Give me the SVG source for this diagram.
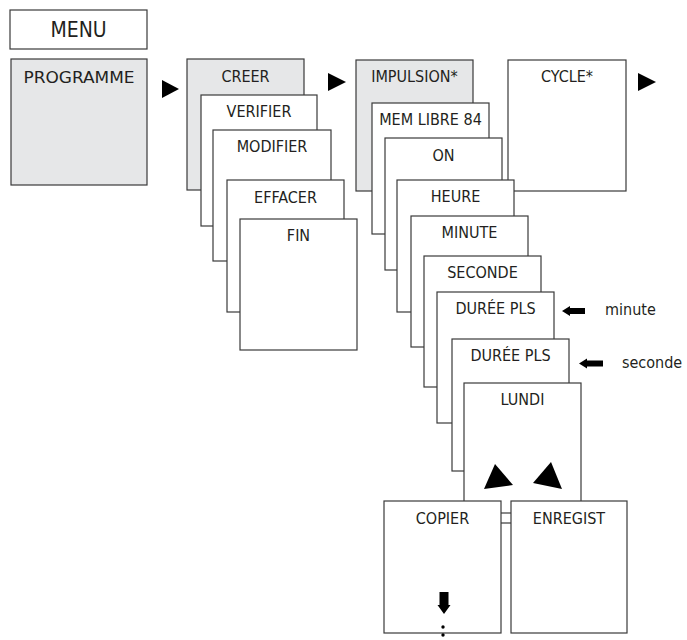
<svg xmlns="http://www.w3.org/2000/svg" width="687" height="640" viewBox="0 0 687 640">
<style>
rect{stroke:#3a3a3a;stroke-width:1.2;fill:#fff}
rect.g{fill:#e6e7e8}
rect.bg{stroke:none}
text{font-family:"DejaVu Sans Condensed","DejaVu Sans",sans-serif;font-size:16px;fill:#231f20;text-anchor:middle}
text.l{text-anchor:start}
.a{fill:#000;stroke:none}
</style>
<rect class="bg" width="687" height="640"/>
<g id="menu"><rect x="10" y="10" width="137" height="39"/><text x="78.5" y="37" style="font-size:21px">MENU</text></g>
<g id="programme"><rect class="g" x="11" y="59" width="136" height="126"/><text x="79" y="83" textLength="111" lengthAdjust="spacingAndGlyphs">PROGRAMME</text></g>
<g id="creer"><rect class="g" x="187" y="59" width="117" height="131"/><text x="245.5" y="82">CREER</text></g>
<g id="verifier"><rect x="201" y="95" width="116" height="131"/><text x="259" y="117">VERIFIER</text></g>
<g id="modifier"><rect x="213" y="130" width="118" height="131"/><text x="272" y="152">MODIFIER</text></g>
<g id="effacer"><rect x="227" y="180" width="117" height="132"/><text x="285.5" y="203">EFFACER</text></g>
<g id="fin"><rect x="240" y="219" width="117" height="131"/><text x="298.5" y="241">FIN</text></g>
<g id="impulsion"><rect class="g" x="356" y="60" width="117" height="131"/><text x="414.5" y="82">IMPULSION*</text></g>
<g id="cycle"><rect x="508" y="60" width="118" height="131"/><text x="567" y="82">CYCLE*</text></g>
<g id="memlibre"><rect x="372" y="103" width="117" height="131"/><text x="430.5" y="125">MEM LIBRE 84</text></g>
<g id="on"><rect x="385" y="138" width="117" height="132"/><text x="443.5" y="161">ON</text></g>
<g id="heure"><rect x="397" y="180" width="117" height="132"/><text x="455.5" y="202">HEURE</text></g>
<g id="minute-box"><rect x="411" y="216" width="117" height="131"/><text x="469.5" y="238">MINUTE</text></g>
<g id="seconde-box"><rect x="424" y="256" width="117" height="131"/><text x="482.5" y="278">SECONDE</text></g>
<g id="duree1"><rect x="437" y="292" width="117" height="131"/><text x="495.5" y="314">DURÉE PLS</text></g>
<g id="duree2"><rect x="452" y="339" width="117" height="132"/><text x="510.5" y="361">DURÉE PLS</text></g>
<g id="lundi"><rect x="464" y="383" width="117" height="140"/><text x="522.5" y="405">LUNDI</text></g>
<g id="copier"><rect x="384" y="501" width="117" height="132"/><text x="442.5" y="524">COPIER</text></g>
<g id="enregist"><rect x="511" y="501" width="116" height="132"/><text x="569" y="524">ENREGIST</text></g>
<g id="minute-label"><text class="l" x="605" y="315">minute</text></g>
<g id="seconde-label"><text class="l" x="622" y="368">seconde</text></g>
<g id="connectors">
<line x1="501" y1="513" x2="511" y2="513" stroke="#3a3a3a" stroke-width="1.2"/>
<polygon class="a" points="162,80 179,89 162,98"/>
<polygon class="a" points="328,73 346,82 328,91"/>
<polygon class="a" points="638,73 656,82 638,91"/>
<polygon class="a" points="484,489 513,485 495,464"/>
<polygon class="a" points="533,483 562,489 551,462"/>
<polygon class="a" points="562,311 570,306 570,308 585,308 585,314 570,314 570,316"/>
<polygon class="a" points="579,363.5 587,358.5 587,360.5 603,360.5 603,366.5 587,366.5 587,368.5"/>
<polygon class="a" points="439.5,592 448.5,592 448.5,605 450.5,605 444,614 437.5,605 439.5,605"/>
<circle class="a" cx="443" cy="627" r="1.7"/>
<circle class="a" cx="443" cy="635" r="1.7"/>
</g>
</svg>
